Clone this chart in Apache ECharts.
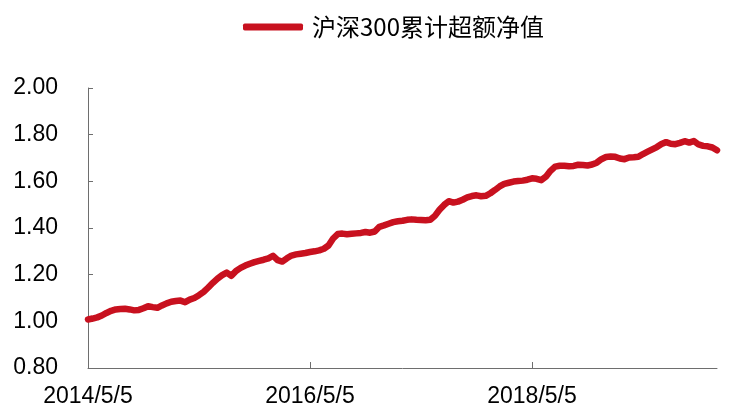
<!DOCTYPE html>
<html>
<head>
<meta charset="utf-8">
<script src="https://cdn.jsdelivr.net/npm/echarts@6/dist/echarts.min.js"></script>
<style>
html,body{margin:0;padding:0;background:#fff;}
#chart{width:729px;height:420px;}
</style>
</head>
<body>
<div id="chart"></div>
<script>
var seriesName = '沪深300累计超额净值';
var dates = [
'2014/5/5','2014/5/20','2014/6/5','2014/6/20','2014/7/5','2014/7/20','2014/8/5','2014/8/20','2014/9/5','2014/9/20','2014/10/5','2014/10/20','2014/11/5','2014/11/20','2014/12/5','2014/12/20',
'2015/1/5','2015/1/20','2015/2/5','2015/2/20','2015/3/5','2015/3/20','2015/4/5','2015/4/20','2015/5/5','2015/5/20','2015/6/5','2015/6/20','2015/7/5','2015/7/20','2015/8/5','2015/8/20','2015/9/5','2015/9/20','2015/10/5','2015/10/20','2015/11/5','2015/11/20','2015/12/5','2015/12/20',
'2016/1/5','2016/1/20','2016/2/5','2016/2/20','2016/3/5','2016/3/20','2016/4/5','2016/4/20','2016/5/5','2016/5/20','2016/6/5','2016/6/20','2016/7/5','2016/7/20','2016/8/5','2016/8/20','2016/9/5','2016/9/20','2016/10/5','2016/10/20','2016/11/5','2016/11/20','2016/12/5','2016/12/20',
'2017/1/5','2017/1/20','2017/2/5','2017/2/20','2017/3/5','2017/3/20','2017/4/5','2017/4/20','2017/5/5','2017/5/20','2017/6/5','2017/6/20','2017/7/5','2017/7/20','2017/8/5','2017/8/20','2017/9/5','2017/9/20','2017/10/5','2017/10/20','2017/11/5','2017/11/20','2017/12/5','2017/12/20',
'2018/1/5','2018/1/20','2018/2/5','2018/2/20','2018/3/5','2018/3/20','2018/4/5','2018/4/20','2018/5/5','2018/5/20','2018/6/5','2018/6/20','2018/7/5','2018/7/20','2018/8/5','2018/8/20','2018/9/5','2018/9/20','2018/10/5','2018/10/20','2018/11/5','2018/11/20','2018/12/5','2018/12/20',
'2019/1/5','2019/1/20','2019/2/5','2019/2/20','2019/3/5','2019/3/20','2019/4/5','2019/4/20','2019/5/5','2019/5/20','2019/6/5','2019/6/20','2019/7/5','2019/7/20','2019/8/5','2019/8/20','2019/9/5','2019/9/20','2019/10/5','2019/10/20','2019/11/5','2019/11/20','2019/12/5','2019/12/20',
'2020/1/5'
];
var values = [
1.008,1.012,1.017,1.025,1.036,1.045,1.051,1.053,1.054,1.051,1.047,1.049,1.056,1.065,1.061,1.058,
1.068,1.077,1.084,1.087,1.089,1.082,1.093,1.100,1.112,1.126,1.145,1.165,1.183,1.198,1.209,1.195,1.216,1.229,1.239,1.247,1.254,1.259,1.264,1.270,
1.281,1.262,1.256,1.270,1.282,1.287,1.290,1.293,1.297,1.300,1.304,1.311,1.325,1.355,1.374,1.376,1.373,1.375,1.377,1.379,1.383,1.380,1.385,1.405,
1.411,1.418,1.425,1.429,1.431,1.435,1.437,1.435,1.434,1.433,1.435,1.452,1.478,1.499,1.515,1.509,1.513,1.521,1.531,1.537,1.540,1.536,1.538,1.549,
1.563,1.578,1.589,1.594,1.599,1.601,1.603,1.607,1.613,1.611,1.605,1.620,1.645,1.663,1.667,1.667,1.665,1.666,1.671,1.670,1.668,1.672,1.680,1.695,
1.704,1.706,1.705,1.698,1.695,1.702,1.703,1.705,1.717,1.727,1.737,1.747,1.760,1.768,1.761,1.759,1.765,1.772,1.766,1.773,1.758,1.752,1.750,1.745,
1.733
];
var yMin = 0.8, yMax = 2.0, yStep = 0.2;
var xLabelEvery = 48;

var chart = echarts.init(document.getElementById('chart'), null, {renderer:'canvas'});
var red = '#C8111F';
var axisColor = '#6e6e6e';
chart.setOption({
  animation: false,
  backgroundColor: '#fff',
  legend: {
    data: [{name: seriesName, icon: 'roundRect'}],
    left: 243,
    top: 15,
    padding: 0,
    itemWidth: 60,
    itemHeight: 7,
    itemStyle: {color: red},
    textStyle: {fontFamily: '"Noto Sans CJK SC", sans-serif', fontSize: 24, color: '#000', padding: [0,0,0,4]}
  },
  grid: {left: 88, right: 12, top: 88, bottom: 52, containLabel: false},
  xAxis: {
    type: 'category',
    data: dates,
    boundaryGap: false,
    axisLine: {lineStyle: {color: axisColor, width: 1}},
    axisTick: {show: true, inside: true, length: 6, interval: xLabelEvery - 1, lineStyle: {color: axisColor}},
    axisLabel: {interval: xLabelEvery - 1, margin: 17, fontFamily: '"Liberation Sans", Arial, sans-serif', fontSize: 23, color: '#000'},
    splitLine: {show: false}
  },
  yAxis: {
    type: 'value',
    min: yMin, max: yMax, interval: yStep,
    axisLine: {show: true, lineStyle: {color: axisColor, width: 1}},
    axisTick: {show: true, inside: true, length: 5, lineStyle: {color: axisColor}},
    axisLabel: {margin: 30, fontFamily: '"Liberation Sans", Arial, sans-serif', fontSize: 23, color: '#000', formatter: function(v){return v.toFixed(2);}},
    splitLine: {show: false}
  },
  series: [{
    name: seriesName,
    type: 'line',
    data: values,
    showSymbol: false,
    symbol: 'none',
    lineStyle: {color: red, width: 6.5, join: 'round', cap: 'round'},
    itemStyle: {color: red}
  }]
});
</script>
</body>
</html>
